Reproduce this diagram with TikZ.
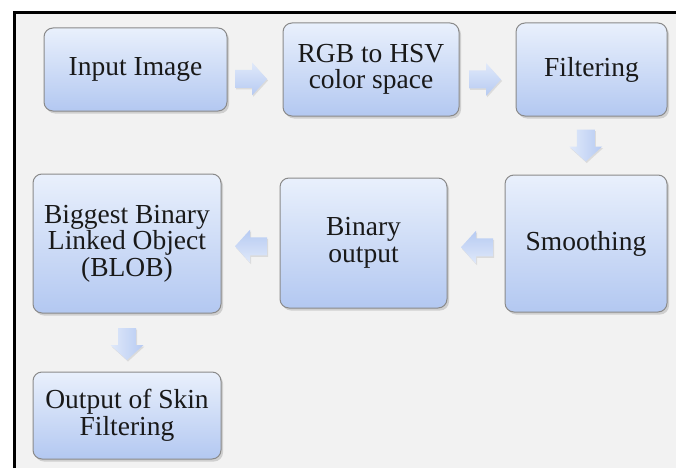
\documentclass[tikz,border=0pt]{standalone}
\usepackage{fontspec}
\setmainfont{Liberation Serif}
\usetikzlibrary{calc,shadows}
\definecolor{boxtop}{HTML}{E9F0FC}
\definecolor{boxbot}{HTML}{B3C8F1}
\definecolor{boxline}{HTML}{8A8A8A}
\definecolor{pagegray}{HTML}{F2F2F2}
\definecolor{arrtop}{HTML}{E0E9FA}
\definecolor{arrbot}{HTML}{B6CAF2}

\tikzset{
  stage/.style={draw=boxline, line width=1pt, rounded corners=9pt,
    top color=boxtop, bottom color=boxbot, align=center, inner sep=0pt,
    font=\fontsize{27.5}{26.5}\selectfont, text=black!90,
    drop shadow={shadow xshift=2pt, shadow yshift=-2.5pt, opacity=0.3}},
  barrow/.pic={\shade[top color=arrtop, bottom color=arrbot, shading angle=#1,
      drop shadow={shadow xshift=1pt, shadow yshift=-1.5pt, opacity=0.2}]
    (-16,-9) -- (1,-9) -- (1,-16.5) -- (16,0) -- (1,16.5) -- (1,9) -- (-16,9) -- cycle;}
}

\begin{document}
\begin{tikzpicture}[x=1pt, y=1pt]
    \useasboundingbox (0,0) rectangle (676,-468);
    % page
    \fill[pagegray] (14,-12) rectangle (676,-468);
    \draw[line width=3pt] (14.5,-468) -- (14.5,-12.5) -- (676,-12.5);
    % row 1
    \node[stage, minimum width=183pt, minimum height=83pt] (inp) at (135.5,-69.5) {Input Image};
    \node[stage, minimum width=176pt, minimum height=93pt] (rgb) at (371,-69.5) {RGB to HSV\\color space};
    \node[stage, minimum width=151pt, minimum height=93pt] (filt) at (591.5,-69.5) {Filtering};
    % row 2
    \node[stage, minimum width=162pt, minimum height=137pt] (smooth) at (586,-243.5) {Smoothing};
    \node[stage, minimum width=167pt, minimum height=130pt] (bin) at (363.5,-243) {Binary\\output};
    \node[stage, minimum width=188pt, minimum height=139pt] (blob) at (127,-243.5) {Biggest Binary\\Linked Object\\(BLOB)};
    % row 3
    \node[stage, minimum width=188pt, minimum height=87pt] (out) at (127,-415.5) {Output of Skin\\Filtering};
    % block arrows
    \pic at ($(inp.east)!0.5!(rgb.west)+(-4,-9.5)$) {barrow=0};
    \pic at ($(rgb.east)!0.5!(filt.west)+(-2.5,-10)$) {barrow=0};
    \pic[rotate=-90] at ($(filt.south)!0.5!(smooth.north)+(-3,0)$) {barrow=90};
    \pic[rotate=180] at ($(smooth.west)!0.5!(bin.east)+(1,-4)$) {barrow=180};
    \pic[rotate=180] at ($(bin.west)!0.5!(blob.east)+(0.5,-3)$) {barrow=180};
    \pic[rotate=-90] at ($(blob.south)!0.5!(out.north)+(0,-1.5)$) {barrow=90};
\end{tikzpicture}
\end{document}
